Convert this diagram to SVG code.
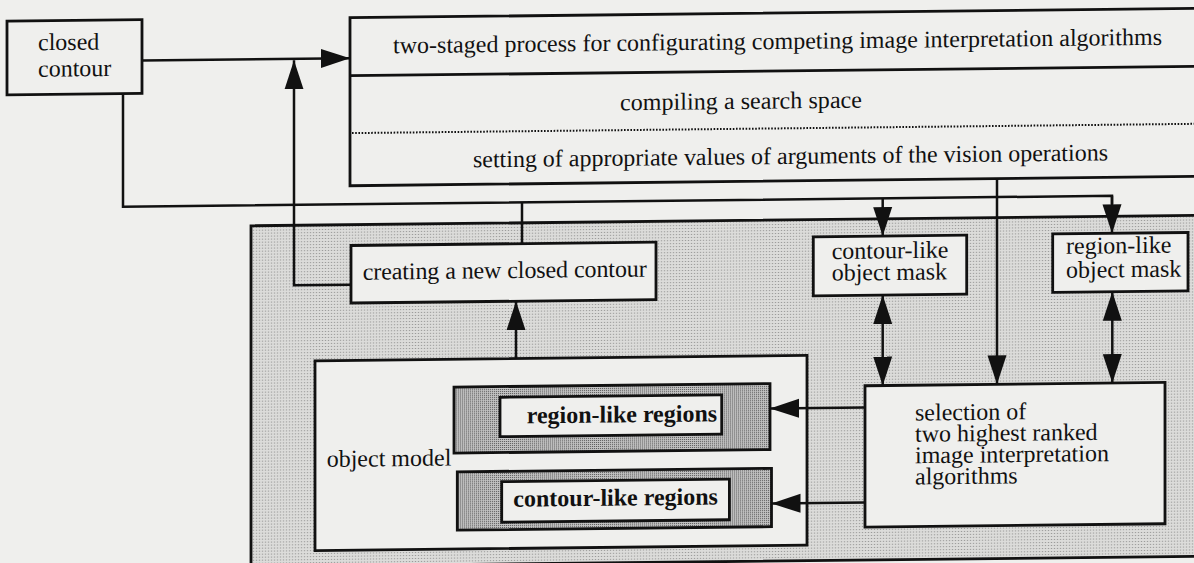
<svg xmlns="http://www.w3.org/2000/svg" width="1194" height="563" viewBox="0 0 1194 563">
<style>
.box{fill:#efefed;stroke:#111;stroke-width:2.8}
.t{font-family:"Liberation Serif","Times New Roman",serif;font-size:24px;fill:#111}
.b{font-weight:bold}
.c{fill:none;stroke:#111;stroke-width:2.5}
.a{marker-end:url(#ah)}
.aa{marker-start:url(#ah);marker-end:url(#ah)}
</style>
<defs>
<pattern id="light" width="3" height="3" patternUnits="userSpaceOnUse">
<rect width="3" height="3" fill="#dcdcda"/>
<rect x="1" y="1" width="1" height="1" fill="#7a7a7a"/>
</pattern>
<pattern id="dark" width="2" height="2" patternUnits="userSpaceOnUse">
<rect width="2" height="2" fill="#c4c4c4"/>
<rect width="1" height="1" fill="#505050"/>
</pattern>
<marker id="ah" markerUnits="userSpaceOnUse" markerWidth="30" markerHeight="20" refX="29" refY="10" orient="auto-start-reverse">
<path d="M0,0.5 L29,10 L0,19.5 z" fill="#111"/>
</marker>
</defs>
<rect width="1194" height="563" fill="#efefed"/>
<g transform="matrix(1,-0.011,0,1,0,6.567)">
<g id="shaded-area">
<rect x="251" y="222" width="980" height="341" fill="url(#light)" stroke="#111" stroke-width="2.8"/>
</g>
<g id="process">
<rect class="box" x="350" y="15" width="880" height="168"/>
<line x1="350" y1="73" x2="1230" y2="73" stroke="#111" stroke-width="2.8"/>
<line x1="352" y1="130.4" x2="1230" y2="130.4" stroke="#111" stroke-width="2" stroke-dasharray="1.6,1.6"/>
<text class="t" x="393" y="51" textLength="769" lengthAdjust="spacing">two-staged process for configurating competing image interpretation algorithms</text>
<text class="t" x="620" y="110.5" textLength="242" lengthAdjust="spacing">compiling a search space</text>
<text class="t" x="473" y="166" textLength="635" lengthAdjust="spacing">setting of appropriate values of arguments of the vision operations</text>
</g>
<g id="closed-contour">
<rect class="box" x="7" y="14.7" width="135" height="73.7"/>
<text class="t" x="38" y="44.1">closed</text>
<text class="t" x="38" y="70.6">contour</text>
</g>
<g id="creating-contour">
<rect class="box" x="351" y="242.8" width="305" height="57.5"/>
<text class="t" x="362.7" y="277.1" textLength="284" lengthAdjust="spacing">creating a new closed contour</text>
</g>
<g id="contour-mask">
<rect class="box" x="813.3" y="239.2" width="153.4" height="59"/>
<text class="t" x="831.7" y="261.5">contour-like</text>
<text class="t" x="831.7" y="283.2">object mask</text>
</g>
<g id="region-mask">
<rect class="box" x="1052.7" y="239" width="135.3" height="58.4"/>
<text class="t" x="1066" y="259">region-like</text>
<text class="t" x="1066" y="283">object mask</text>
</g>
<g id="object-model">
<rect class="box" x="315" y="357.7" width="492" height="189.8"/>
<text class="t" x="326.7" y="463.9">object model</text>
</g>
<g id="region-like-regions">
<rect x="454" y="385.5" width="316" height="66" fill="url(#dark)" stroke="#111" stroke-width="2.8"/>
<rect class="box" x="500" y="396.2" width="221.7" height="39.4"/>
<text class="t b" x="526.7" y="422.6">region-like regions</text>
</g>
<g id="contour-like-regions">
<rect x="457.3" y="470.3" width="314.2" height="58.3" fill="url(#dark)" stroke="#111" stroke-width="2.8"/>
<rect class="box" x="501.7" y="480.6" width="227.7" height="40.6"/>
<text class="t b" x="513.3" y="505.8">contour-like regions</text>
</g>
<g id="selection">
<rect class="box" x="865" y="388.7" width="300" height="141.3"/>
<text class="t" x="915" y="424">selection of</text>
<text class="t" x="915" y="445.3">two highest ranked</text>
<text class="t" x="915" y="466.7">image interpretation</text>
<text class="t" x="915" y="488">algorithms</text>
</g>
<g id="connectors">
<path class="c a" d="M142,55.5 H350"/>
<path class="c" d="M123,88.4 V201.5 H1112 V210"/>
<path class="c a" d="M1112,201.5 V239"/>
<path class="c a" d="M882.7,201.5 V239.2"/>
<path class="c" d="M522,201.5 V242.8"/>
<path class="c a" d="M351,282 H294 V57"/>
<path class="c a" d="M516,357.7 V300.3"/>
<path class="c a" d="M997,183 V388.7"/>
<path class="c aa" d="M882.7,298.2 V388.7"/>
<path class="c aa" d="M1112.3,297.4 V388.7"/>
<path class="c a" d="M865,410.5 H770"/>
<path class="c a" d="M865,505.5 H771.5"/>
</g>
</g>
</svg>
